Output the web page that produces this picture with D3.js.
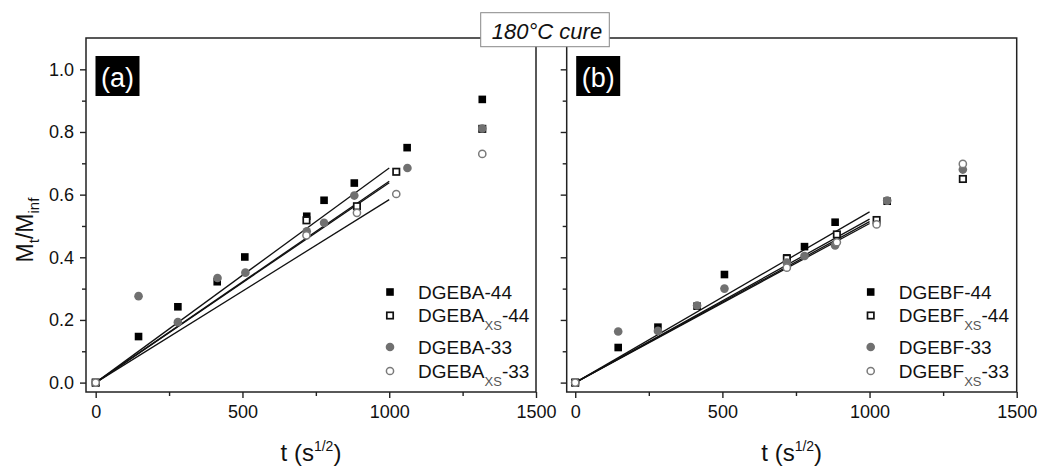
<!DOCTYPE html>
<html>
<head>
<meta charset="utf-8">
<script src="https://cdn.jsdelivr.net/npm/d3@7"></script>
<style>
    body { margin: 0; background: #fff; }
    svg { display: block; font-family: 'Liberation Sans', Arial, sans-serif; }
</style>
</head>
<body>
<svg id="chart" width="1041" height="466"></svg>
<script>
// panel (a) - DGEBA, [t (s^1/2), Mt/Minf]
const dgeba44 = [[0, 0], [146, 0.147], [280, 0.242], [414, 0.322], [508, 0.401], [719, 0.531], [778, 0.582], [881, 0.637], [1061, 0.750], [1317, 0.904]];
const dgebaXs44 = [[0, 0], [718, 0.518], [890, 0.563], [1024, 0.673], [1317, 0.810]];
const dgeba33 = [[0, 0], [146, 0.276], [280, 0.193], [415, 0.334], [510, 0.351], [719, 0.483], [778, 0.510], [881, 0.597], [1062, 0.685], [1317, 0.811]];
const dgebaXs33 = [[0, 0], [718, 0.470], [890, 0.542], [1024, 0.602], [1317, 0.730]];
// linear fits, value at t = 1000
const fitsA = [0.685, 0.638, 0.643, 0.584];

// panel (b) - DGEBF
const dgebf44 = [[0, 0], [146, 0.112], [281, 0.177], [414, 0.244], [507, 0.345], [719, 0.398], [779, 0.434], [883, 0.512], [1060, 0.579], [1317, 0.650]];
const dgebfXs44 = [[0, 0], [719, 0.396], [889, 0.473], [1024, 0.519], [1317, 0.650]];
const dgebf33 = [[0, 0], [146, 0.163], [281, 0.165], [414, 0.246], [507, 0.300], [719, 0.383], [779, 0.404], [883, 0.438], [1060, 0.581], [1317, 0.680]];
const dgebfXs33 = [[0, 0], [719, 0.367], [889, 0.448], [1024, 0.505], [1317, 0.698]];
const fitsB = [0.545, 0.522, 0.514, 0.508];

const namesA = ['DGEBA', 'DGEBA', 'DGEBA', 'DGEBA'];
const namesB = ['DGEBF', 'DGEBF', 'DGEBF', 'DGEBF'];
const subs = ['', 'XS', '', 'XS'];
const suffixes = ['-44', '-44', '-33', '-33'];
const symbols = ['filledSquare', 'openSquare', 'filledCircle', 'openCircle'];

const xMajor = [0, 500, 1000, 1500];
const xMinor = [250, 750, 1250];
const yMajor = [0, 0.2, 0.4, 0.6, 0.8, 1.0];
const yMinor = [0.1, 0.3, 0.5, 0.7, 0.9];

const svg = d3.select('#chart');
const TOP = 38;
const BOTTOM = 392;

const panels = [
    { label: '(a)', left: 86, right: 536, xMin: -33, series: [dgeba44, dgebaXs44, dgeba33, dgebaXs33], fits: fitsA, names: namesA, yLabels: true },
    { label: '(b)', left: 566.7, right: 1016.7, xMin: -29, series: [dgebf44, dgebfXs44, dgebf33, dgebfXs33], fits: fitsB, names: namesB, yLabels: false },
];

function drawSymbol(g, type, cx, cy) {
    if (type === 'filledSquare') {
        g.append('rect').attr('x', cx - 3.8).attr('y', cy - 3.8).attr('width', 7.6).attr('height', 7.6)
            .attr('fill', '#000');
    } else if (type === 'openSquare') {
        g.append('rect').attr('x', cx - 3.2).attr('y', cy - 3.2).attr('width', 6.4).attr('height', 6.4)
            .attr('fill', '#fff').attr('stroke', '#111').attr('stroke-width', 1.7);
    } else if (type === 'filledCircle') {
        g.append('circle').attr('cx', cx).attr('cy', cy).attr('r', 4.3).attr('fill', '#707070');
    } else {
        g.append('circle').attr('cx', cx).attr('cy', cy).attr('r', 3.6)
            .attr('fill', '#fff').attr('stroke', '#7a7a7a').attr('stroke-width', 1.5);
    }
}

panels.forEach(function (p) {
    const x = d3.scaleLinear().domain([p.xMin, 1500]).range([p.left, p.right]);
    const y = d3.scaleLinear().domain([-0.03, 1.1]).range([BOTTOM, TOP]);
    const g = svg.append('g');

    // minor ticks
    g.append('g').attr('transform', 'translate(0,' + BOTTOM + ')')
        .call(d3.axisBottom(x).tickValues(xMinor).tickSize(4).tickFormat(''));
    g.append('g').attr('transform', 'translate(' + p.left + ',0)')
        .call(d3.axisLeft(y).tickValues(yMinor).tickSize(4).tickFormat(''));

    // major ticks
    g.append('g').attr('class', 'xaxis').attr('transform', 'translate(0,' + BOTTOM + ')')
        .call(d3.axisBottom(x).tickValues(xMajor).tickSize(6).tickPadding(7).tickFormat(d3.format('d')));
    g.append('g').attr('class', 'yaxis').attr('transform', 'translate(' + p.left + ',0)')
        .call(d3.axisLeft(y).tickValues(yMajor).tickSize(6).tickPadding(6)
            .tickFormat(p.yLabels ? d3.format('.1f') : ''));

    g.selectAll('.domain').remove();
    g.selectAll('.tick line').attr('stroke', '#222').attr('stroke-width', 1.4);
    g.selectAll('.tick text').attr('fill', '#111').style('font-size', '18px')
        .style('font-family', "'Liberation Sans', Arial, sans-serif");

    // fit lines
    p.fits.forEach(function (v) {
        g.append('line')
            .attr('x1', x(0)).attr('y1', y(0))
            .attr('x2', x(1000)).attr('y2', y(v))
            .attr('stroke', '#111').attr('stroke-width', 1.3);
    });

    // data points
    const pts = g.append('g');
    p.series.forEach(function (s, i) {
        s.forEach(function (d) {
            drawSymbol(pts, symbols[i], x(d[0]), y(d[1]));
        });
    });

    // frame
    g.append('rect')
        .attr('x', p.left).attr('y', TOP)
        .attr('width', p.right - p.left).attr('height', BOTTOM - TOP)
        .attr('fill', 'none').attr('stroke', '#222').attr('stroke-width', 1.5);

    // panel label
    g.append('rect').attr('x', p.left + 9.5).attr('y', 56).attr('width', 44).attr('height', 40).attr('fill', '#000');
    g.append('text').attr('x', p.left + 31.5).attr('y', 87)
        .attr('text-anchor', 'middle').attr('fill', '#fff')
        .style('font-size', '27px').text(p.label);

    // legend
    const rowY = [292, 315.5, 347, 371];
    p.names.forEach(function (name, i) {
        drawSymbol(g, symbols[i], p.right - 146, rowY[i]);
        const t = g.append('text').attr('x', p.right - 118).attr('y', rowY[i] + 6.5)
            .attr('fill', '#111').style('font-size', '19px');
        t.append('tspan').text(name);
        if (subs[i]) {
            t.append('tspan').attr('dy', 8).style('font-size', '13px').attr('fill', '#555').text(subs[i]);
            t.append('tspan').attr('dy', -8).text(suffixes[i]);
        } else {
            t.append('tspan').text(suffixes[i]);
        }
    });

    // x title
    const xt = g.append('text').attr('x', (p.left + p.right) / 2).attr('y', 461)
        .attr('text-anchor', 'middle').attr('fill', '#111').style('font-size', '24px');
    xt.append('tspan').text('t (s');
    xt.append('tspan').attr('dy', -10).style('font-size', '14px').text('1/2');
    xt.append('tspan').attr('dy', 10).text(')');
});

// y title
const yt = svg.append('text')
    .attr('transform', 'translate(33,230) rotate(-90)')
    .attr('text-anchor', 'middle').attr('fill', '#111').style('font-size', '23px');
yt.append('tspan').text('M');
yt.append('tspan').attr('dy', 6).style('font-size', '15px').text('t');
yt.append('tspan').attr('dy', -6).text('/M');
yt.append('tspan').attr('dy', 6).style('font-size', '15px').text('inf');

// title box
svg.append('rect').attr('x', 480.7).attr('y', 12.7).attr('width', 128.6).attr('height', 34)
    .attr('fill', '#fff').attr('stroke', '#888').attr('stroke-width', 1);
svg.append('text').attr('x', 547).attr('y', 39).attr('text-anchor', 'middle')
    .attr('fill', '#111').style('font-size', '22px').style('font-style', 'italic')
    .text('180°C cure');
</script>
</body>
</html>
